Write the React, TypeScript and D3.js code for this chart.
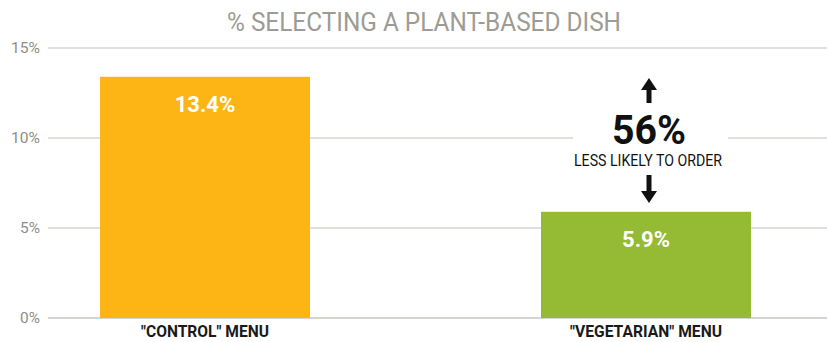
import React, { useRef, useEffect } from "react";
import * as d3 from "d3";

const categories = ['"CONTROL" MENU', '"VEGETARIAN" MENU'];
const values = [13.4, 5.9];
const valueLabels = ["13.4%", "5.9%"];
const tickValues = [0, 5, 10, 15];
const barColors = ["#FDB515", "#95BA33"];
const title = "% SELECTING A PLANT-BASED DISH";
const calloutBig = "56%";
const calloutSmall = "LESS LIKELY TO ORDER";

const App = () => {
  const svgRef = useRef<SVGSVGElement>(null);

  useEffect(() => {
    const w = 827;
    const h = 342;
    const svg = d3.select(svgRef.current).attr("width", w).attr("height", h);
    svg.selectAll("*").remove();

    // scales
    const y = d3.scaleLinear().domain([0, 15]).range([318, 48]);
    const x = d3
      .scaleBand<string>()
      .domain(categories)
      .range([30, 821])
      .paddingInner(0.5238)
      .paddingOuter(0.1587);

    // title
    svg.append("text")
      .attr("x", 227)
      .attr("y", 31)
      .attr("font-family", "Roboto, sans-serif")
      .attr("font-size", 26)
      .attr("fill", "#9c9c94")
      .attr("textLength", 394)
      .attr("lengthAdjust", "spacingAndGlyphs")
      .text(title);

    // gridlines + tick labels
    const grid = svg.append("g");
    grid.selectAll("line")
      .data(tickValues)
      .join("line")
      .attr("x1", 48)
      .attr("x2", w)
      .attr("y1", (d) => y(d))
      .attr("y2", (d) => y(d))
      .attr("stroke", (d) => (d === 0 ? "#c8c8c2" : "#d6d6d0"))
      .attr("stroke-width", 1.3);
    const tickW = (d: number) => (d >= 10 ? 29 : 20);
    grid.selectAll("text")
      .data(tickValues)
      .join("text")
      .attr("x", (d) => 40 - tickW(d))
      .attr("y", (d) => y(d) + 5)
      .attr("font-family", "Roboto, sans-serif")
      .attr("font-size", 15)
      .attr("fill", "#8e8e88")
      .attr("textLength", tickW)
      .attr("lengthAdjust", "spacingAndGlyphs")
      .text((d) => d + "%");

    // bars
    svg.selectAll("rect.bar")
      .data(values)
      .join("rect")
      .attr("class", "bar")
      .attr("x", (d, i) => x(categories[i])!)
      .attr("width", x.bandwidth())
      .attr("y", (d) => y(d))
      .attr("height", (d) => y(0) - y(d))
      .attr("fill", (d, i) => barColors[i]);

    // value labels inside bars
    svg.selectAll("text.val")
      .data(values)
      .join("text")
      .attr("class", "val")
      .attr("x", (d, i) => x(categories[i])! + x.bandwidth() / 2)
      .attr("y", (d) => y(d) + 35)
      .attr("text-anchor", "middle")
      .attr("font-family", "Roboto, sans-serif")
      .attr("font-weight", "bold")
      .attr("font-size", 22)
      .attr("fill", "#ffffff")
      .text((d, i) => valueLabels[i]);

    // category labels
    const catW = [128, 152];
    svg.selectAll("text.cat")
      .data(categories)
      .join("text")
      .attr("class", "cat")
      .attr("x", (d, i) => x(d)! + x.bandwidth() / 2 - catW[i] / 2)
      .attr("y", 337)
      .attr("font-family", "Roboto, sans-serif")
      .attr("font-weight", "bold")
      .attr("font-size", 17)
      .attr("fill", "#1a1a1a")
      .attr("textLength", (d, i) => catW[i])
      .attr("lengthAdjust", "spacingAndGlyphs")
      .text((d) => d);

    // callout above the vegetarian bar
    const cx = x(categories[1])! + x.bandwidth() / 2 + 3;
    const callout = svg.append("g");
    callout.append("rect")
      .attr("x", 573)
      .attr("y", y(11.9))
      .attr("width", 155)
      .attr("height", y(6.2) - y(11.9))
      .attr("fill", "#ffffff");

    const arrow = (y0: number, y1: number) => {
      const dir = Math.sign(y1 - y0);
      callout.append("line")
        .attr("x1", cx).attr("x2", cx)
        .attr("y1", y0).attr("y2", y1 - dir * 8)
        .attr("stroke", "#111").attr("stroke-width", 5);
      callout.append("path")
        .attr("d", `M${cx - 8},${y1 - dir * 12} L${cx + 8},${y1 - dir * 12} L${cx},${y1} Z`)
        .attr("fill", "#111");
    };
    arrow(103, 78);
    arrow(175, 203);

    callout.append("text")
      .attr("x", cx - 37)
      .attr("y", 144)
      .attr("font-family", "Roboto, sans-serif")
      .attr("font-weight", "bold")
      .attr("font-size", 40)
      .attr("fill", "#111")
      .attr("textLength", 74)
      .attr("lengthAdjust", "spacingAndGlyphs")
      .text(calloutBig);

    callout.append("text")
      .attr("x", cx - 75)
      .attr("y", 166)
      .attr("font-family", "Roboto, sans-serif")
      .attr("font-size", 16)
      .attr("fill", "#111")
      .attr("textLength", 148)
      .attr("lengthAdjust", "spacingAndGlyphs")
      .text(calloutSmall);
  }, []);

  return (
    <div>
      <svg
        ref={svgRef}
        style={{ position: "absolute", left: 0, top: 0, background: "#ffffff" }}
      ></svg>
    </div>
  );
};

export default App;
